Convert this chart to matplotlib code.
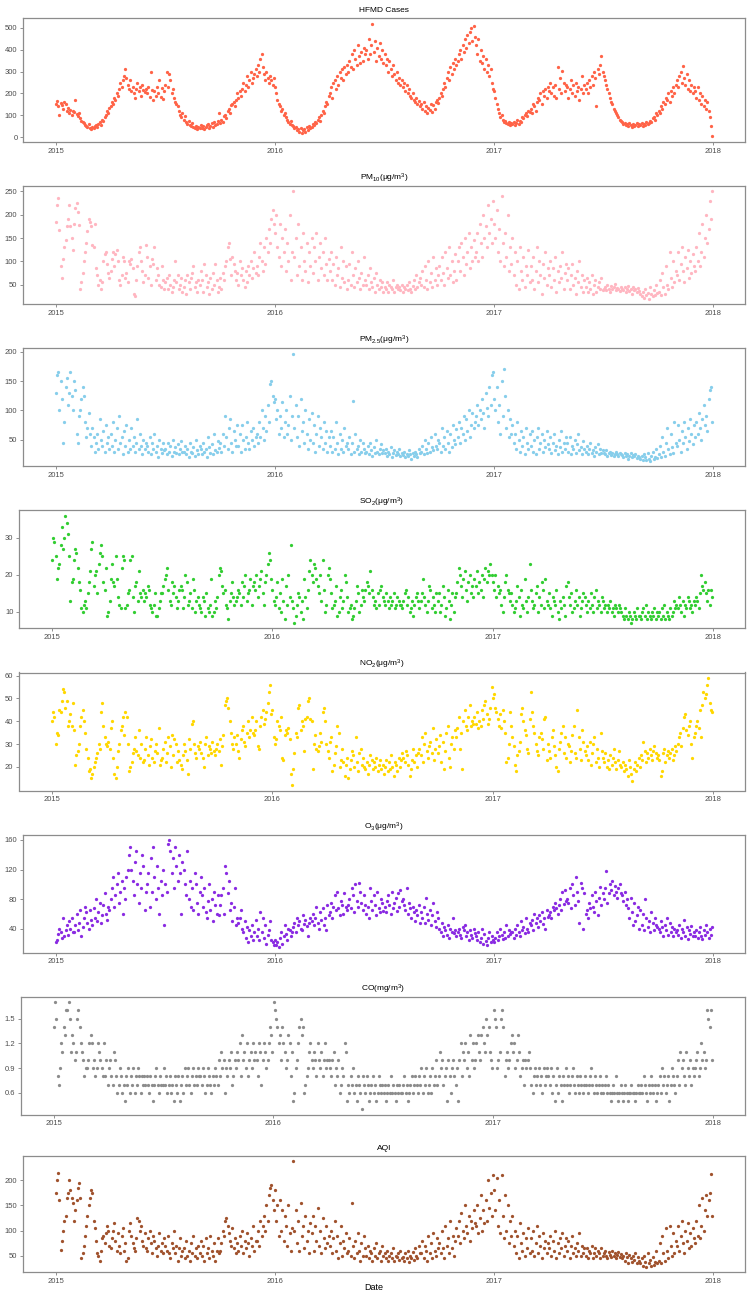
import numpy as np
import pandas as pd
import matplotlib
matplotlib.use('Agg')
import matplotlib.pyplot as plt

plt.rcParams['font.family'] = ['Liberation Sans', 'DejaVu Sans']
plt.rcParams['mathtext.fontset'] = 'custom'
plt.rcParams['mathtext.rm'] = 'Liberation Sans'
plt.rcParams['mathtext.it'] = 'Liberation Sans:italic'
plt.rcParams['mathtext.bf'] = 'Liberation Sans:bold'

START, END = '2015-01-01', '2017-12-31'
year_ticks = ['2015-01-01', '2016-01-01', '2017-01-01', '2018-01-01']
year_labels = ['2015', '2016', '2017', '2018']

# ~every 2 days, one line per month (Jan 2015 ... Dec 2017)
hfmd = [
    150,165,140,100,155,145,130,160,150,120,135,110,125,100,120,
    115,170,105,95,110,85,75,70,65,55,50,45,60,40,35,
    45,40,50,55,45,60,70,55,80,75,90,100,120,110,135,
    140,160,150,180,170,200,190,220,250,230,260,280,310,270,240,
    220,260,210,230,200,180,220,250,210,230,190,240,215,205,220,
    200,230,185,300,215,170,210,190,230,200,260,185,225,175,210,
    240,300,230,290,260,200,220,180,160,150,140,120,100,90,110,
    80,95,70,60,75,55,50,65,45,40,50,35,45,40,55,
    40,50,35,45,55,60,40,50,65,45,70,55,60,75,110,
    65,80,70,95,100,85,120,130,110,145,150,160,140,170,200,
    180,210,190,220,250,210,240,280,230,260,300,250,270,290,310,
    280,330,300,360,380,320,290,260,300,270,250,280,260,240,270,
    230,200,170,150,140,120,130,100,110,90,80,70,60,75,55,
    50,40,45,30,35,25,40,20,30,35,25,45,30,50,40,
    45,60,55,70,65,80,90,75,100,120,110,140,160,150,190,
    200,230,180,250,260,220,280,240,300,270,310,260,320,290,330,
    300,350,320,380,310,400,360,330,420,370,340,390,350,410,380,
    400,360,450,380,420,520,390,440,350,410,370,430,360,400,340,
    380,330,360,300,350,310,280,330,290,260,300,250,270,240,260,
    230,250,210,240,200,220,190,180,200,170,160,180,150,165,140,
    150,130,160,120,140,110,135,125,150,115,145,130,160,170,155,
    180,200,190,220,250,230,270,300,260,320,290,340,310,360,330,
    350,380,400,360,420,390,450,410,470,430,480,500,440,510,460,
    420,380,450,350,400,340,370,310,360,300,330,280,310,250,220,
    210,180,150,130,110,90,100,80,70,75,65,60,70,55,65,
    60,70,55,65,80,60,75,70,90,85,100,110,95,120,115,
    130,110,150,140,120,160,180,170,200,150,210,190,220,180,230,
    210,250,200,230,190,240,180,320,220,270,200,305,250,210,240,
    230,180,220,260,200,240,190,250,210,230,170,220,280,200,240,
    220,250,200,260,230,280,240,300,270,140,310,290,330,370,300,
    280,260,240,220,200,180,160,150,130,120,110,100,90,80,75,
    70,60,65,55,60,50,65,55,45,60,50,55,65,50,60,
    55,65,50,60,55,70,60,65,75,70,85,90,80,110,100,
    120,110,140,130,160,150,180,170,200,160,210,190,230,200,240,
    260,230,280,300,250,325,270,240,290,220,260,210,240,200,230,
    210,180,230,170,200,150,190,140,170,130,160,120,90,50,3,
]

pm10 = [
    185,220,237,168,90,65,105,130,145,175,190,220,175,150,125,
    180,215,225,205,178,40,55,75,100,120,140,165,190,185,175,
    135,130,180,85,70,50,60,40,55,100,115,120,95,75,65,
    80,105,120,90,115,125,100,60,50,70,110,100,65,75,55,
    100,95,105,85,30,25,60,90,120,130,100,80,55,70,135,
    110,65,90,50,105,95,130,60,85,70,50,45,90,60,40,
    55,65,40,70,50,35,45,60,100,55,70,40,50,65,35,
    45,60,30,70,55,40,65,75,90,45,55,35,60,50,80,
    60,35,95,70,45,55,30,65,40,75,50,95,60,35,45,
    65,40,75,60,90,100,130,140,105,70,110,95,80,60,75,
    50,100,70,85,60,45,80,55,90,70,100,65,85,120,75,
    90,70,110,140,100,80,130,95,150,120,170,140,190,210,180,
    160,200,130,110,180,90,150,120,170,80,140,100,200,60,120,
    250,110,150,70,180,90,130,60,160,100,80,140,55,120,90,
    150,75,130,100,160,60,110,140,85,120,70,150,95,60,105,
    80,120,60,95,50,110,70,85,45,130,65,100,55,90,40,
    60,95,50,120,70,45,85,55,100,65,40,75,50,110,60,
    50,70,40,85,55,45,65,35,75,50,40,60,45,55,35,
    45,40,55,35,50,45,40,60,35,45,50,40,45,38,50,
    35,45,40,50,38,55,42,35,48,60,40,70,45,55,65,
    50,80,45,90,60,40,100,55,75,45,110,60,85,50,70,
    90,60,110,75,50,120,85,65,130,70,100,55,80,115,60,
    100,130,80,140,110,70,150,95,120,160,85,130,100,145,110,
    120,160,100,180,140,110,200,150,175,130,220,160,190,140,230,
    180,150,210,120,170,100,240,140,90,160,110,200,80,130,95,
    150,70,120,50,100,40,130,80,60,110,45,90,70,125,55,
    90,60,110,40,80,130,55,100,70,30,95,65,120,50,85,
    70,100,45,85,60,110,35,80,55,90,65,120,40,75,95,
    60,85,40,70,95,50,65,30,80,55,100,45,70,35,60,
    45,65,35,55,40,70,30,50,60,35,45,55,40,65,38,
    40,45,38,50,42,35,48,40,45,52,38,44,40,36,46,
    42,38,45,35,40,48,36,42,30,45,38,40,34,44,36,
    30,25,35,22,40,28,33,20,45,30,25,38,28,50,32,
    35,60,28,75,45,30,90,50,40,120,65,45,100,55,80,
    70,120,60,95,130,80,55,110,85,125,65,100,75,115,90,
    80,130,100,160,90,120,180,110,150,200,140,170,230,190,250,
]

pm25 = [
    130,160,165,100,150,120,45,80,140,155,110,130,165,125,100,
    150,135,60,45,90,100,120,140,125,80,55,70,95,60,40,
    70,55,30,45,60,35,85,50,40,65,30,75,45,55,35,
    60,40,80,30,50,70,35,90,45,55,25,65,40,75,30,
    50,35,70,40,55,30,45,85,35,60,40,25,50,35,45,
    40,30,55,25,45,35,60,30,40,20,50,35,28,45,32,
    35,25,45,30,40,22,50,30,38,27,42,25,35,48,30,
    30,40,25,35,20,45,30,28,38,22,50,32,26,40,35,
    25,45,30,35,20,55,38,28,42,25,60,33,30,48,36,
    45,30,60,40,90,55,35,70,85,45,30,65,50,40,75,
    40,60,30,75,50,35,55,80,45,35,65,50,70,40,55,
    60,45,80,55,100,70,50,90,65,110,80,145,150,125,115,
    120,85,100,60,90,70,115,55,80,100,60,75,125,50,90,
    197,70,110,55,90,40,120,65,80,45,100,60,35,85,50,
    95,45,75,30,60,90,40,70,55,35,80,45,65,30,55,
    40,65,30,55,35,80,45,25,60,35,50,30,70,40,45,
    35,55,25,45,117,30,60,35,40,25,50,30,45,35,28,
    30,40,25,45,32,22,38,28,50,30,25,35,42,28,33,
    28,35,22,30,25,38,20,28,32,24,30,26,35,22,27,
    24,30,20,26,22,32,25,18,28,22,30,25,20,35,28,
    30,40,25,50,35,28,45,30,55,38,32,60,40,35,50,
    45,30,70,40,55,35,65,45,30,60,38,75,50,42,68,
    55,80,45,70,60,90,50,85,65,100,55,75,95,70,80,
    90,110,75,100,85,120,95,70,130,105,90,140,110,160,165,
    120,100,140,80,110,60,150,90,170,125,70,100,55,85,60,
    75,45,60,35,80,50,30,65,40,55,25,70,45,35,60,
    40,65,30,50,25,55,70,35,45,60,30,50,38,65,42,
    35,55,28,45,60,32,40,25,50,38,65,30,45,35,55,
    45,30,55,25,40,35,50,28,42,60,32,38,26,48,35,
    30,40,25,35,45,28,32,22,38,30,42,26,35,28,33,
    28,25,32,22,27,30,24,28,22,26,30,25,23,28,25,
    24,20,27,22,25,18,23,28,20,24,22,26,19,23,21,
    18,22,15,25,20,16,28,18,14,22,30,17,20,35,19,
    25,40,20,55,30,22,45,70,35,25,60,38,28,80,45,
    40,75,50,30,65,45,80,55,35,70,48,85,60,42,75,
    55,80,60,95,70,50,85,110,75,90,65,120,135,140,80,
]

so2 = [
    24,30,29,25,19,22,23,28,33,27,30,36,34,31,25,
    13,18,19,24,27,26,22,18,16,11,10,12,13,11,15,
    18,21,27,29,17,20,21,15,23,26,28,25,18,16,22,
    9,10,13,19,23,18,17,25,19,14,12,11,22,25,24,
    11,12,15,16,24,25,14,10,17,18,13,21,15,14,16,
    13,15,14,17,16,12,11,10,12,15,9,9,11,13,15,
    15,17,19,20,22,16,13,12,18,15,17,14,11,13,16,
    17,16,11,14,20,18,12,13,15,11,19,16,10,13,14,
    12,11,10,14,13,9,15,11,10,12,19,9,10,13,11,
    14,20,22,21,17,15,16,12,11,8,13,15,18,14,12,
    13,14,16,15,12,18,14,17,20,13,15,16,19,12,17,
    18,16,20,14,17,19,21,15,12,18,20,23,26,24,19,
    16,13,12,14,18,11,15,10,19,13,8,17,12,20,14,
    28,13,11,7,9,12,15,14,10,13,8,19,14,11,16,
    21,24,20,18,23,22,19,17,15,20,13,24,16,10,12,
    20,22,19,15,11,12,13,17,9,10,14,16,11,13,20,
    18,14,10,11,12,8,9,11,13,17,15,10,12,16,14,
    13,16,18,17,15,21,16,14,12,13,11,15,12,16,17,
    14,13,12,15,13,11,14,12,13,15,11,12,14,13,12,
    12,11,13,15,16,12,14,10,11,13,9,12,14,15,13,
    11,13,15,19,14,12,10,13,17,16,11,14,12,10,15,
    13,15,10,12,17,14,9,11,16,13,8,12,15,10,14,
    15,18,22,20,17,14,19,21,16,13,18,20,15,17,14,
    19,17,21,15,18,16,20,14,19,22,18,21,20,23,20,
    18,16,20,14,17,15,16,12,10,14,18,20,16,15,13,
    15,12,10,11,13,17,14,9,16,12,11,19,13,10,14,
    23,16,13,11,12,15,17,10,14,12,18,16,11,19,13,
    12,15,11,9,14,13,12,16,10,8,13,11,14,12,9,
    17,18,14,12,15,10,11,13,16,12,14,9,11,13,15,
    14,12,10,13,11,15,12,10,14,16,11,13,12,10,14,
    13,11,12,10,12,11,13,10,11,9,12,11,10,12,11,
    10,9,8,11,9,8,10,9,7,8,10,9,8,11,9,
    9,8,10,11,9,12,8,10,9,8,10,9,11,8,10,
    9,10,8,11,9,12,8,10,9,8,11,9,10,13,11,
    12,11,14,12,10,13,9,12,11,14,13,11,12,10,13,
    12,14,13,11,15,20,17,16,18,15,13,16,12,16,14,
]

no2 = [
    40,44,42,30,35,34,45,44,49,54,53,46,49,38,40,
    43,38,48,36,21,25,27,30,38,42,45,40,35,28,24,
    18,19,15,17,20,22,24,26,30,28,44,48,38,33,30,
    29,31,28,37,40,24,17,15,20,27,30,36,38,42,34,
    44,42,30,18,20,22,26,28,33,27,25,36,24,30,22,
    23,28,33,25,21,29,32,24,22,27,30,26,37,21,23,
    24,28,31,22,26,33,29,20,34,25,32,30,22,27,23,
    21,19,25,30,27,23,17,32,28,39,40,30,26,24,29,
    28,31,26,24,20,30,33,25,29,28,26,31,27,25,28,
    30,27,32,21,29,34,47,49,50,46,40,35,30,28,33,
    30,34,27,24,32,36,38,31,29,35,40,33,36,42,35,
    34,36,40,29,28,38,42,45,39,41,44,48,53,56,43,
    45,33,30,32,40,38,36,42,24,23,34,36,35,37,32,
    17,12,19,26,35,33,46,47,36,40,38,27,41,42,49,
    50,41,40,19,30,34,28,27,29,35,31,44,46,40,30,
    27,24,31,33,18,21,26,29,38,35,20,23,28,22,16,
    21,24,15,19,23,27,25,20,33,22,18,26,28,21,24,
    20,19,22,17,21,25,23,19,22,20,24,18,21,23,19,
    21,17,20,23,18,22,19,25,20,16,22,21,18,24,20,
    23,26,24,22,27,25,21,16,19,23,28,22,25,20,26,
    28,25,33,22,30,35,27,24,29,31,26,37,23,28,32,
    26,29,34,22,31,19,27,35,38,24,20,30,33,28,36,
    33,37,42,28,35,19,40,45,38,36,42,47,38,40,39,
    42,39,44,37,40,38,45,41,47,49,43,39,41,46,55,
    50,52,46,44,41,38,43,37,45,40,35,22,24,30,44,
    38,33,29,21,18,25,27,31,43,46,40,36,34,28,26,
    41,53,44,38,35,30,27,25,33,35,32,28,41,42,23,
    30,27,24,33,36,29,25,20,18,28,31,35,38,26,33,
    24,30,29,22,27,34,38,26,24,45,33,28,23,36,31,
    27,25,29,23,31,21,26,30,33,22,28,24,20,35,27,
    24,22,26,20,23,19,25,21,24,28,22,19,23,27,21,
    20,22,18,21,19,16,23,20,17,14,19,22,18,21,24,
    20,25,23,31,27,22,26,24,28,25,23,27,29,26,24,
    25,23,16,18,26,28,22,25,27,24,26,28,23,25,29,
    27,30,33,35,29,37,42,43,36,34,38,40,30,24,33,
    35,38,40,37,45,33,47,53,50,52,56,59,48,45,44,
]

o3 = [
    22,25,33,40,35,28,54,30,38,45,32,50,40,55,36,
    35,45,60,38,48,66,30,42,55,70,62,48,40,65,52,
    45,68,55,80,50,62,75,48,58,72,88,60,52,70,65,
    80,95,110,70,85,100,115,75,90,105,60,95,80,110,120,
    140,150,120,105,85,130,145,100,75,115,95,140,125,65,90,
    100,115,70,135,90,150,110,80,125,95,60,105,85,120,45,
    100,90,155,160,145,115,135,95,150,125,105,140,115,60,130,
    120,100,85,145,80,105,70,95,65,115,100,75,60,90,110,
    85,70,95,62,55,78,100,65,80,50,90,72,60,85,58,
    72,85,95,60,125,115,88,105,65,75,50,70,95,45,55,
    48,55,65,40,35,50,28,42,22,38,30,45,25,35,52,
    30,40,25,62,35,55,28,45,20,32,38,50,25,22,18,
    25,18,22,15,28,35,20,30,45,33,25,40,38,30,35,
    42,48,35,55,45,50,40,38,58,47,52,44,30,48,55,
    50,60,45,55,70,48,40,62,52,68,45,55,38,72,58,
    62,75,55,70,85,65,90,68,58,78,72,60,88,70,65,
    72,80,68,95,85,62,100,78,70,102,90,75,66,85,72,
    60,70,55,95,78,65,85,72,58,90,68,62,80,75,64,
    70,62,78,85,72,60,90,68,75,82,64,88,70,92,78,
    80,72,65,95,60,75,68,55,70,62,50,66,58,72,48,
    62,55,70,48,82,60,52,65,45,58,75,50,42,63,55,
    40,35,48,30,42,38,32,45,28,40,36,55,34,38,30,
    35,40,32,28,42,38,45,30,35,25,38,32,28,40,34,
    30,25,36,22,28,40,20,33,24,18,27,35,22,30,25,
    22,28,35,25,30,40,32,26,35,28,45,30,38,33,36,
    35,28,40,32,45,36,30,50,38,42,34,55,40,36,48,
    45,52,38,60,48,55,42,58,50,62,46,54,40,65,56,
    58,62,55,70,65,75,68,60,72,80,66,90,74,92,78,
    80,75,95,68,100,85,72,110,90,78,48,102,95,40,88,
    60,65,55,75,68,85,70,62,90,78,58,82,96,72,88,
    80,95,118,75,88,100,92,105,85,98,90,82,95,100,88,
    85,78,90,72,80,68,55,82,62,45,75,50,58,70,40,
    65,45,60,38,80,55,42,50,35,62,48,38,55,45,42,
    40,35,50,42,30,45,38,55,32,48,36,42,30,40,35,
    38,32,45,28,40,35,52,30,42,26,38,33,44,30,36,
    30,38,28,35,42,30,26,38,32,45,35,28,40,32,42,
]

co = [
    1.4,1.7,1.5,0.8,0.7,0.9,1.2,1.1,1.4,1.3,1.6,1.6,1.7,1.5,1.1,
    1.3,1.2,1.0,1.1,1.5,1.6,1.4,1.2,1.1,1.0,0.8,0.9,0.9,1.0,1.2,
    1.3,1.2,0.9,1.0,0.8,0.9,1.2,1.1,1.0,0.9,0.8,1.2,0.8,1.0,0.7,
    0.9,1.0,0.8,0.7,1.1,1.0,0.8,0.6,0.7,0.9,0.8,0.6,0.7,0.5,0.8,
    0.7,0.9,0.6,0.8,0.7,0.9,0.6,0.8,0.7,0.9,0.8,0.6,0.8,0.7,0.8,
    0.7,0.8,0.7,0.6,0.8,0.7,0.5,0.7,0.8,0.9,0.7,0.6,0.8,0.7,0.7,
    0.9,0.7,0.8,0.6,0.7,0.8,0.6,0.7,0.5,0.8,0.7,0.6,0.8,0.5,0.7,
    0.8,0.6,0.9,0.7,0.8,0.9,0.7,0.6,0.8,0.9,0.7,0.8,0.7,0.9,0.8,
    0.8,0.7,0.9,0.8,0.6,0.7,0.9,0.8,0.7,0.6,0.8,0.7,0.9,0.8,0.7,
    1.0,0.8,1.1,0.9,1.0,0.6,0.9,0.8,1.0,0.9,1.1,0.7,0.8,1.0,0.9,
    1.1,1.0,1.2,0.8,1.3,1.0,1.1,0.9,1.2,0.8,1.0,1.1,0.9,1.2,1.0,
    1.1,1.0,0.8,1.2,1.1,0.7,1.0,1.2,1.1,0.9,1.0,1.2,1.4,1.3,1.1,
    1.7,1.6,1.5,1.4,1.2,1.3,1.0,1.4,1.2,1.1,0.9,1.0,1.3,1.2,0.8,
    1.1,0.5,0.6,0.9,1.0,1.2,1.4,1.5,1.3,1.4,0.6,0.7,0.8,0.9,1.1,
    1.2,1.0,0.9,1.1,1.0,0.8,1.2,1.0,0.9,1.1,0.8,1.0,1.2,0.9,1.0,
    1.0,0.9,0.8,1.0,1.1,0.7,0.9,0.8,1.0,0.6,0.7,0.9,0.8,1.2,1.1,
    0.5,0.7,0.6,0.8,0.7,0.9,0.6,0.7,0.5,0.8,0.7,0.6,0.4,0.8,0.7,
    0.6,0.8,0.7,0.5,0.6,0.7,0.8,0.6,0.7,0.5,0.6,0.8,0.7,0.6,0.7,
    0.6,0.7,0.5,0.6,0.7,0.6,0.8,0.6,0.7,0.6,0.5,0.7,0.6,0.7,0.6,
    0.6,0.7,0.8,0.6,0.7,0.5,0.6,0.7,0.8,0.6,0.7,0.8,0.7,0.6,0.8,
    0.7,0.9,0.6,0.8,0.7,0.9,0.6,0.7,0.8,0.6,0.9,0.7,0.8,1.0,0.7,
    0.8,1.1,0.9,1.0,0.7,0.8,0.9,0.5,1.0,0.8,0.6,0.9,1.0,0.8,0.7,
    0.9,0.5,1.0,1.2,0.8,1.1,1.0,1.2,0.9,1.1,0.8,1.3,1.0,1.2,0.9,
    1.0,1.2,1.3,1.1,1.0,1.3,1.4,1.2,1.1,1.5,1.3,1.4,1.1,1.0,0.9,
    1.6,1.5,1.4,0.9,1.0,1.1,1.5,1.6,1.4,0.8,1.0,1.1,0.9,1.0,1.2,
    1.3,1.1,1.2,0.9,1.0,1.3,1.1,0.8,0.9,1.0,0.7,1.0,0.9,1.0,1.1,
    0.9,0.7,0.6,0.8,0.9,0.7,0.8,0.9,0.7,0.8,0.6,0.9,0.7,0.8,0.9,
    0.8,0.7,0.9,0.6,0.8,0.5,0.7,0.9,0.6,0.8,0.7,0.5,0.8,0.7,0.9,
    0.7,0.8,0.6,0.7,0.8,0.9,0.7,0.6,0.8,0.7,0.6,0.8,0.7,0.6,0.7,
    0.8,0.7,0.6,0.7,0.8,0.9,0.7,0.6,0.8,0.7,0.6,0.7,0.8,0.6,0.7,
    0.6,0.7,0.8,0.6,0.7,0.6,0.5,0.6,0.7,0.6,0.8,0.6,0.5,0.6,0.7,
    0.6,0.5,0.6,0.7,0.6,0.5,0.6,0.6,0.7,0.6,0.6,0.5,0.6,0.7,0.6,
    0.6,0.7,0.6,0.8,0.7,0.6,0.5,0.7,0.6,0.8,0.7,0.6,0.7,0.5,0.6,
    0.7,0.8,0.6,0.9,0.7,0.8,0.6,0.7,0.8,0.5,0.7,0.9,0.8,0.7,0.6,
    0.8,1.0,0.7,1.1,0.9,1.0,0.8,0.7,1.1,0.9,0.8,1.0,0.7,0.9,0.8,
    0.9,1.0,1.1,0.8,0.9,1.2,1.0,1.1,0.9,1.0,1.6,1.5,1.4,1.6,1.0,
]

aqi = [
    175,200,215,160,62,80,100,120,130,165,175,200,180,165,155,
    120,140,160,185,195,165,45,55,70,90,110,130,150,165,180,
    175,120,105,80,55,50,40,60,85,90,75,95,110,100,70,
    65,85,100,115,80,60,95,70,55,90,105,60,75,40,45,
    100,115,90,75,65,60,85,125,120,100,110,80,70,95,65,
    60,85,100,75,55,90,80,65,50,70,95,60,75,55,85,
    70,60,90,55,45,75,65,100,55,70,40,65,85,50,60,
    65,45,80,50,60,40,75,55,90,50,65,45,70,55,80,
    50,70,40,85,55,65,45,90,60,50,75,40,60,85,55,
    60,75,100,90,120,125,110,95,80,70,105,65,85,55,75,
    60,90,70,100,55,80,65,95,75,50,85,70,110,60,80,
    80,100,70,120,90,110,130,100,150,120,170,185,190,160,140,
    180,120,150,90,160,100,140,80,130,110,70,150,95,60,105,
    238,100,140,75,120,60,155,90,110,65,130,80,100,55,115,
    95,130,60,110,80,145,70,100,55,125,85,65,110,75,90,
    70,100,55,85,120,60,90,45,75,110,50,80,65,95,55,
    60,85,50,155,70,45,80,55,95,60,40,75,50,90,65,
    50,70,45,60,55,40,65,50,75,45,55,60,40,70,50,
    55,45,60,40,50,55,45,65,40,50,48,55,42,60,45,
    48,40,55,45,60,38,50,45,58,42,65,50,45,70,55,
    55,80,45,70,60,40,90,55,75,45,95,60,50,85,65,
    75,55,100,65,45,110,70,85,55,120,65,90,50,80,105,
    90,120,75,135,100,85,150,110,95,130,80,120,105,140,115,
    110,150,95,125,170,100,140,115,160,120,200,145,175,130,210,
    180,140,205,110,160,95,210,130,85,170,100,150,75,120,90,
    130,70,100,55,90,45,115,75,60,95,50,85,65,105,55,
    85,60,100,50,75,110,55,90,70,45,95,65,80,55,75,
    65,90,50,80,60,100,45,75,55,85,65,95,50,70,85,
    60,80,45,70,90,55,65,50,75,60,95,50,70,55,65,
    50,65,45,60,55,70,45,55,65,50,60,55,45,65,50,
    55,60,50,45,58,52,48,60,50,55,45,52,58,48,54,
    45,50,40,55,48,35,52,45,38,50,42,55,36,48,40,
    35,45,30,50,38,28,55,35,42,30,48,32,38,60,35,
    40,75,35,90,55,40,105,60,45,110,70,50,95,55,80,
    70,110,60,90,120,75,55,100,80,115,65,95,70,105,85,
    75,120,90,150,85,110,165,100,140,170,130,160,175,212,130,
]

titles = ['HFMD Cases',
          'PM$_{10}$(μg/m$^{3}$)',
          'PM$_{2.5}$(μg/m$^{3}$)',
          'SO$_{2}$(μg/m$^{3}$)',
          'NO$_{2}$(μg/m$^{3}$)',
          'O$_{3}$(μg/m$^{3}$)',
          'CO(mg/m$^{3}$)',
          'AQI']
series = [hfmd, pm10, pm25, so2, no2, o3, co, aqi]
colors = ['#FF6347', '#FFB6C1', '#87CEEB', '#32CD32', '#FFD700',
          '#8A2BE2', '#8C8C8C', '#A0522D']
yticks = [[0, 100, 200, 300, 400, 500],
          [50, 100, 150, 200, 250],
          [50, 100, 150, 200],
          [10, 20, 30],
          [20, 30, 40, 50, 60],
          [40, 80, 120, 160],
          [0.6, 0.9, 1.2, 1.5],
          [50, 100, 150, 200]]
ytick_labels = [[str(v) for v in t] for t in yticks]
ytick_labels[6] = ['0.6', '0.9', '1.2', '1.5']

W, H = 748, 1297
fig = plt.figure(figsize=(W / 100, H / 100), dpi=100)
slot = H / 8
lefts = [23, 23, 23, 19, 19, 23, 21, 23]
RIGHT = 745

for i in range(8):
    if i == 0:
        top, bot = 18, 142
    elif i == 7:
        top, bot = 1156, 1272
    else:
        top, bot = slot * i + 24, slot * i + 142
    left = lefts[i]
    ax = fig.add_axes([left / W, 1 - bot / H, (RIGHT - left) / W, (bot - top) / H])
    vals = series[i]
    dates = pd.date_range(START, END, periods=len(vals))
    ax.scatter(dates, vals, s=5.5, c=colors[i], linewidths=0, zorder=3)
    span = dates[-1] - dates[0]
    ax.set_xlim(dates[0] - span * 0.05, dates[-1] + span * 0.05)
    vmin, vmax = min(vals), max(vals)
    r = vmax - vmin
    ax.set_ylim(vmin - 0.05 * r, vmax + 0.05 * r)
    ax.set_xticks(pd.to_datetime(year_ticks))
    ax.set_xticklabels(year_labels)
    ax.set_yticks(yticks[i])
    ax.set_yticklabels(ytick_labels[i])
    ax.tick_params(length=2.5, width=0.6, color='#7f7f7f', labelsize=5.5,
                   labelcolor='#4d4d4d', pad=1.5)
    for sp in ax.spines.values():
        sp.set_color('#8c8c8c')
        sp.set_linewidth(0.9)
    ax.set_title(titles[i], fontsize=6, pad=4, color='black')

fig.text(0.5, 1 - 1288 / H, 'Date', ha='center', va='center', fontsize=6.5)
fig.savefig('out.png', dpi=100)
